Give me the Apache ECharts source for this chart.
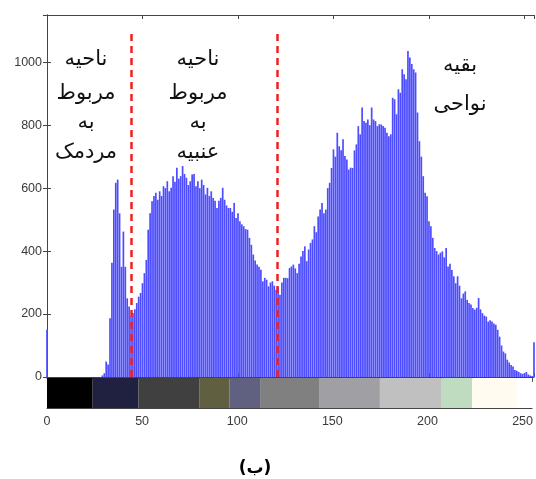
<!DOCTYPE html>
<html>
<head>
<meta charset="utf-8">
<script src="https://cdn.jsdelivr.net/npm/echarts@6/dist/echarts.min.js"></script>
<style>html,body{margin:0;padding:0;background:#fff;}#c{width:536px;height:479px;}</style>
</head>
<body>
<div id="c"></div>
<script>
// Histogram counts for grey levels 0..255
const counts = [
150,0,0,0,0,0,0,0,0,0, 0,0,0,0,0,0,0,0,0,0,
0,0,0,0,0,0,0,0,0,5, 12,49,40,187,363,532,617,627,520,350,
462,350,250,224,192,203,215,235,255,267, 298,330,372,468,520,558,575,585,563,590,
575,606,600,622,590,601,638,620,665,630, 638,670,645,633,610,622,643,645,606,622,
600,627,610,580,601,575,590,569,560,537, 560,569,601,563,545,537,537,525,553,505,
520,495,485,479,470,468,442,420,389,370, 357,350,341,304,315,309,288,300,304,290,
277,285,261,300,315,315,314,346,351,357, 345,330,360,383,400,415,368,405,426,437,
479,460,510,532,553,520,532,600,617,664, 723,700,776,733,720,755,702,691,659,665,
664,720,739,797,771,856,813,808,818,800, 856,818,813,797,803,802,797,792,776,765,
771,887,882,835,914,903,978,962,946,1036, 1015,994,978,967,840,749,700,638,585,574,
495,479,442,410,400,389,395,399,380,410, 351,360,340,320,298,320,290,250,265,272,
245,235,230,219,214,220,251,215,203,195, 192,176,180,176,170,166,150,128,100,81,
75,55,46,38,33,22,20,16,12,10, 12,16,8,5,3,110
];
const greyLevels = counts.map((c, i) => i);
const xTicks = [0, 50, 100, 150, 200, 250];
const yTicks = [0, 200, 400, 600, 800, 1000];
// Colour bar segments: start, end of each band and its colour
const bandStarts = [0, 24, 48, 80, 96, 112, 143, 175, 207.5, 223.5, 247];
const bandEnds   = [24, 48, 80, 96, 112, 143, 175, 207.5, 223.5, 247, 255];
const bandColors = ['#000000','#202040','#404040','#606040','#606080','#808080','#a0a0a4','#c0c0c0','#c0dcc0','#fffbf0','#ffffff'];
// Red dashed separators (grey level) and their top value
const separators = [44.3, 120.5];
const separatorTop = 1092;
const regionLabels = [
  ['ناحیه', 'مربوط', 'به', 'مردمک'],
  ['ناحیه', 'مربوط', 'به', 'عنبیه'],
  ['بقیه', 'نواحی']
];
const caption = '(ب)';

const chart = echarts.init(document.getElementById('c'), null, {renderer: 'canvas'});
const axisCol = '#444';
const labelFont = {color: '#3a3a3a', fontSize: 12.5, fontFamily: 'Liberation Sans, Arial, sans-serif'};

function xAx(grid, pos, showLabel) {
  return {
    type: 'value', gridIndex: grid, position: pos, min: 0, max: 255, interval: 50,
    axisLine: {show: true, onZero: false, lineStyle: {color: axisCol, width: 1}},
    axisTick: {show: true, inside: true, length: 4, lineStyle: {color: axisCol}},
    axisLabel: showLabel ? Object.assign({show: true, margin: 7, showMaxLabel: false,
      formatter: v => xTicks.includes(v) ? String(v) : ''}, labelFont) : {show: false},
    splitLine: {show: false}
  };
}

const option = {
  animation: false,
  backgroundColor: '#fff',
  grid: [
    {left: 47, right: 2, top: 15, height: 362},
    {left: 47, right: 2, top: 378, height: 30}
  ],
  xAxis: [
    xAx(0, 'bottom', false),
    xAx(0, 'top', false),
    xAx(1, 'bottom', true),
    xAx(1, 'top', false)
  ],
  yAxis: [
    {type: 'value', gridIndex: 0, position: 'left', min: 0, max: 1150, interval: 200,
     axisLine: {show: true, lineStyle: {color: axisCol}},
     axisTick: {show: true, inside: true, length: 4, lineStyle: {color: axisCol}},
     axisLabel: Object.assign({margin: 5, showMaxLabel: false,
       formatter: v => yTicks.includes(v) ? String(v) : ''}, labelFont),
     splitLine: {show: false}},
    {type: 'value', gridIndex: 0, position: 'right', min: 0, max: 1150, interval: 200,
     axisLine: {show: true, lineStyle: {color: axisCol}},
     axisTick: {show: true, inside: true, length: 4, lineStyle: {color: axisCol}},
     axisLabel: {show: false}, splitLine: {show: false}},
    {type: 'value', gridIndex: 1, position: 'left', min: 0, max: 1,
     axisLine: {show: true, lineStyle: {color: axisCol}}, axisTick: {show: false},
     axisLabel: {show: false}, splitLine: {show: false}},
    {type: 'value', gridIndex: 1, position: 'right', min: 0, max: 1,
     axisLine: {show: true, lineStyle: {color: axisCol}}, axisTick: {show: false},
     axisLabel: {show: false}, splitLine: {show: false}}
  ],
  series: [
    {
      type: 'bar', xAxisIndex: 0, yAxisIndex: 0,
      data: greyLevels.map((g, i) => [g, counts[i]]),
      barWidth: 1.7,
      itemStyle: {color: '#4d4dff'},
      clip: true,
      markLine: {
        silent: true, symbol: 'none', label: {show: false},
        lineStyle: {color: '#f02020', type: [7, 5], width: 2.5},
        data: separators.map(s => [{coord: [s, 0]}, {coord: [s, separatorTop]}])
      },
      z: 2
    },
    {
      type: 'custom', xAxisIndex: 2, yAxisIndex: 2,
      data: bandStarts.map((s, i) => [s, bandEnds[i], i]),
      renderItem: function (params, api) {
        const p0 = api.coord([api.value(0), 1]);
        const p1 = api.coord([api.value(1), 0]);
        return {type: 'rect', shape: {x: p0[0], y: p0[1], width: p1[0] - p0[0], height: p1[1] - p0[1]},
          style: {fill: bandColors[api.value(2)]}};
      },
      z: 1
    }
  ],
  graphic: []
};

const fa = 'DejaVu Sans, Noto Sans, sans-serif';
const textBlocks = [
  {x: 86, ys: [60, 94, 123, 153], lines: regionLabels[0]},
  {x: 198, ys: [60, 94, 123, 153], lines: regionLabels[1]},
  {x: 460, ys: [66, 105], lines: regionLabels[2]}
];
textBlocks.forEach(b => {
  b.lines.forEach((t, i) => {
    option.graphic.push({type: 'text', x: b.x, y: b.ys[i], z: 10,
      style: {text: t, font: '21px ' + fa, fill: '#111', align: 'center', verticalAlign: 'middle'}});
  });
});
option.graphic.push({type: 'text', x: 255, y: 469, z: 10,
  style: {text: caption, font: 'bold 17px ' + fa, fill: '#000', align: 'center', verticalAlign: 'middle'}});

chart.setOption(option);
</script>
</body>
</html>
